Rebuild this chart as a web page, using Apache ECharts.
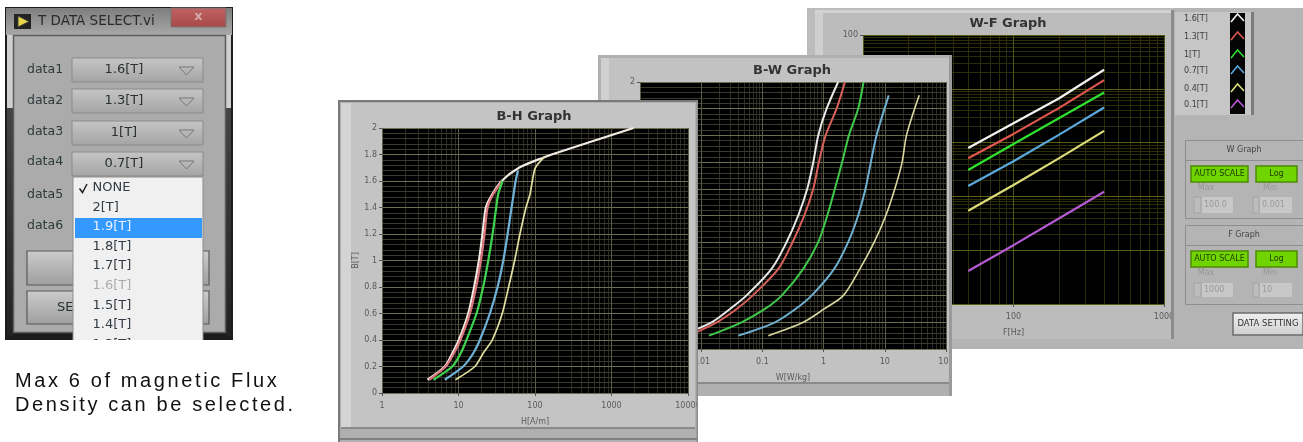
<!DOCTYPE html>
<html><head><meta charset="utf-8">
<style>html,body{margin:0;padding:0;background:#fff}#c{width:1303px;height:442px}</style>
<script src="https://cdn.jsdelivr.net/npm/echarts@6/dist/echarts.min.js"></script>
</head><body><div id="c"></div>
<script>
// ---------- data ----------
const legendLabels = ['1.6[T]','1.3[T]','1[T]','0.7[T]','0.4[T]','0.1[T]'];
const legendColors = ['#f2f2f2','#e0564f','#2fe02f','#5aa8dc','#dcdc78','#b45ad2'];
const bhColors = ['#f0ece4','#d9777c','#3fd24f','#6fb2d8','#e0e0a0'];
const bwColors = ['#e8e8e8','#d9605a','#3fc84a','#6fb0d0','#d8d8a0'];
const selectLabels = ['data1','data2','data3','data4','data5','data6'];
const selectValues = ['1.6[T]','1.3[T]','1[T]','0.7[T]'];
const menuItems = ['NONE','2[T]','1.9[T]','1.8[T]','1.7[T]','1.6[T]','1.5[T]','1.4[T]','1.3[T]'];

// B-H: [H, B]
const bhA = [[3.93,.1],[6.62,.2],[8.3,.3],[10.1,.4],[13.4,.6],[16,.8],[18.5,1],[20.6,1.2],[22.8,1.4],[27.6,1.5],[36.6,1.6],[61.7,1.7],[132,1.78],[165,1.8],[1941,2]];
const bhB = [[4.13,.1],[6.8,.2],[8.7,.3],[10.6,.4],[14.1,.6],[17,.8],[19.6,1],[21.9,1.2],[24,1.4],[28.4,1.5],[37.3,1.6]];
const bhC = [[4.7,.1],[8.3,.2],[10.7,.3],[12.7,.4],[17.2,.6],[21,.8],[24.5,1],[27.9,1.2],[31.1,1.4],[33,1.5],[37.7,1.6]];
const bhD = [[6.6,.1],[11.5,.2],[15.6,.3],[19,.4],[25.7,.6],[32.4,.8],[38.5,1],[43.9,1.2],[49.4,1.4],[52.5,1.5],[55.8,1.6],[59.9,1.68]];
const bhE = [[9.1,.1],[16.4,.2],[21,.3],[27.6,.4],[37.3,.6],[45.2,.8],[54.2,1],[63.6,1.2],[76.2,1.4],[86,1.5],[92.3,1.6],[101,1.7],[132,1.78]];
// B-W: [W, B]
const bwA = [[.0045,.1],[.0148,.2],[.0295,.3],[.0545,.4],[.141,.6],[.248,.8],[.385,1],[.541,1.2],[.678,1.4],[.817,1.6],[1.12,1.8],[1.73,2]];
const bwB = [[.0062,.1],[.0179,.2],[.0379,.3],[.069,.4],[.182,.6],[.311,.8],[.483,1],[.678,1.2],[.838,1.4],[1.08,1.6],[1.63,1.8],[2.23,2]];
const bwC = [[.0134,.1],[.0457,.2],[.11,.3],[.206,.4],[.465,.6],[.817,.8],[1.15,1],[1.53,1.2],[2.01,1.4],[2.59,1.6],[3.67,1.8],[4.5,2]];
const bwD = [[.0404,.1],[.16,.2],[.348,.3],[.635,.4],[1.49,.6],[2.52,.8],[3.67,1],[4.84,1.2],[5.92,1.4],[7.33,1.6],[11.6,1.9]];
const bwE = [[.125,.1],[.465,.2],[1.02,.3],[2.09,.4],[3.92,.6],[6.71,.8],[10.4,1],[14.6,1.2],[19.2,1.4],[22.6,1.6],[36.5,1.9]];
// W-F: [F, W]
const wfA = [[50,.796],[100,2.29],[200,6.6],[400,22.6]];
const wfB = [[50,.51],[100,1.45],[200,4.37],[400,14.5]];
const wfC = [[50,.31],[100,.944],[200,2.84],[400,8.55]];
const wfD = [[50,.156],[100,.449],[200,1.39],[400,4.49]];
const wfE = [[50,.054],[100,.163],[200,.51],[400,1.65]];
const wfF = [[50,.0041],[100,.0124],[200,.0389],[400,.122]];

// ---------- helpers ----------
const G = echarts.graphic;
const FONT = '"DejaVu Sans"';
const vg = (a,b)=>new G.LinearGradient(0,0,0,1,[{offset:0,color:a},{offset:1,color:b}]);
const els = [];
function rect(x,y,w,h,fill,z,stroke,lw){els.push({type:'rect',silent:true,z,shape:{x,y,width:w,height:h},style:{fill,stroke:stroke||null,lineWidth:lw||0}});}
function text(x,y,s,size,fill,z,align,weight,zlevel){els.push({type:'text',silent:true,z,zlevel:zlevel||0,x,y,style:{text:s,font:(weight?weight+' ':'')+size+'px '+FONT,fill,textAlign:align||'left',textVerticalAlign:'middle'}});}
function poly(pts,stroke,lw,z){els.push({type:'polyline',silent:true,z,shape:{points:pts},style:{stroke,lineWidth:lw,fill:null}});}

function logMinors(lo,hi){const o=[];for(let e=lo;e<hi;e++)for(let k=2;k<10;k++)o.push(+(k*Math.pow(10,e)).toPrecision(3));return o;}

// ---------- background + panels ----------
// W-F window
rect(807,8,496,341,'#b4b4b4',1);
rect(807,8,367,331,'#bcbcbc',2);
rect(815,13,8,326,'#cfcfcf',3);
rect(815,10,357,3,'#d2d2d2',3);
rect(1171,10,3,329,'#8c8c8c',16);
// B-W window
rect(598,55,354,341,'#b0b0b0',30);
rect(601,58,348,324,'#c2c2c2',30);
rect(601,58,8,324,'#d0d0d0',30);
rect(601,382,348,2,'#8a8a8a',30);
rect(949,55,3,341,'#9a9a9a',36);
rect(952,350,14,46,'#ffffff',36);
// B-H window
rect(338,100,360,342,'#b0b0b0',50);
rect(341,103,354,324,'#c4c4c4',50);
rect(341,103,10,324,'#d4d4d4',50);
rect(341,427,354,2,'#8a8a8a',50);
rect(338,438,360,2,'#808080',50);
rect(338,100,2,342,'#7a7a7a',50);
rect(338,100,360,2,'#7a7a7a',50);
rect(696.5,100,1.5,342,'#8a8a8a',56);
rect(698,397,10,20,'#ffffff',56);
text(534,117,'B-H Graph',13,'#333',51,'center','bold');
text(792,71,'B-W Graph',13,'#333',31,'center','bold');
text(1008,24,'W-F Graph',13,'#333',11,'center','bold');

// legend box
rect(1175,12,79,103,'#c6c6c6',5);
rect(1251,12,3,103,'#7c7c7c',5);
rect(1230,13,15,101,'#050505',6);
legendLabels.forEach((s,i)=>{
  const y=[19,37,55,71,89,105][i];
  text(1184,y,s,8,'#3c3c3c',6);
  poly([[1231,y+3],[1237.5,y-5],[1244,y+2]],legendColors[i],1.6,7);
});
// scale groups
function group(y,h,ttl,lineY,btnY,labY,inY,inH,a,b){
  rect(1185.5,y+.5,118,h,'#b4b4b4',5,'#8e8e8e',1);
  rect(1186,lineY,118,1,'#8e8e8e',6);
  text(1244,y+10,ttl,8,'#444',6,'center');
  rect(1191,btnY,57,16,'#6fd400',6,'#4d8a00',1.5);
  rect(1256,btnY,41,16,'#6fd400',6,'#4d8a00',1.5);
  text(1219.5,btnY+8,'AUTO SCALE',8,'#1e3a00',7,'center');
  text(1276.5,btnY+8,'Log',8,'#1e3a00',7,'center');
  text(1206,labY,'Max',8,'#969696',7,'center');
  text(1270,labY,'Min',8,'#969696',7,'center');
  rect(1194,inY,7,inH,'#bdbdbd',6,'#a4a4a4',1);
  rect(1202,inY,31,inH,'#c8c8c8',6);
  text(1204,inY+inH/2,a,8,'#999',7);
  rect(1253,inY,6,inH,'#bdbdbd',6,'#a4a4a4',1);
  rect(1260,inY,32,inH,'#c8c8c8',6);
  text(1262,inY+inH/2,b,8,'#999',7);
}
group(140,78,'W Graph',160,166,188,197,16,'100.0','0.001');
group(225,79,'F Graph',245,251,273,283,14,'1000','10');
rect(1233,313,70,22,vg('#f0f0f0','#cfcfcf'),6,'#6c6c6c',1.5);
text(1268,324,'DATA SETTING',8.5,'#333',7,'center');

// ---------- selection dialog ----------
const D=70;
rect(5,7,228,333,'#1c1c1c',D);
rect(6,8,226,27,vg('#7e7e7e','#a8a8a8'),D);
rect(7,35,6,73,'#d0d0d0',D);
rect(226,35,5,73,'#d0d0d0',D);
rect(7,108,6,228,vg('#444444','#222222'),D);
rect(226,108,5,228,vg('#444444','#222222'),D);
rect(171,8,55,19,vg('#c06464','#a84848'),D,'#777',1);
text(198.5,17,'x',13,'#d8a8a8',D,'center','bold');
rect(14,14,17,15,'#222',D);
els.push({type:'polygon',silent:true,z:D,shape:{points:[[18,16],[29,21.5],[18,27]]},style:{fill:'#e8d84a',stroke:'#444',lineWidth:1}});
text(38,21,'T DATA SELECT.vi',13.5,'#2a2a2a',D);
rect(13.5,35.5,212,297,'#ababab',D,'#5c5c5c',1.5);
selectLabels.forEach((s,i)=>text(27,[70,101,132,162,195,226][i],s,12.5,'#2e3a3a',D+1));
[58,89,121,152].forEach((y,i)=>{
  rect(72,y,131,24,vg('#c6c6c6','#a4a4a4'),D+1,'#8a8a8a',1);
  text(124,y+12,selectValues[i],13,'#2a3030',D+2,'center');
  poly([[179,y+9],[194,y+9],[186.5,y+17],[179,y+9]],'#777',1,D+2);
});
rect(27,251,182,34,vg('#cccccc','#9e9e9e'),D+1,'#5a5a5a',1.2);
rect(27,291,182,33,vg('#cccccc','#9e9e9e'),D+1,'#5a5a5a',1.2);
text(57,308,'SE',13,'#2a3030',D+2);
rect(73,177,130,170,'#f0f0f0',D+3,'#8c8c8c',1);
rect(75,218,127,20,'#3399ff',D+4);
menuItems.forEach((s,i)=>{
  text(92.5,187.5+i*19.65,s,13,i===2?'#e8f2ff':(i===5?'#ababab':'#333c44'),D+5);
});
poly([[79.5,188.5],[82.5,192.5],[87,184]],'#222',1.5,D+5);
rect(0,340,320,102,'#ffffff',D+6);
rect(0,7,5,333,'#ffffff',D+6);

// caption (own canvas layer so it can carry the letter spacing)
const CAP=['Max 6 of magnetic Flux','Density can be selected.'];
CAP.forEach((s,i)=>els.push({type:'text',silent:true,z:1,zlevel:1,x:15,y:[381,405][i],
  style:{text:s,font:'20px "Liberation Sans"',fill:'#111',textAlign:'left',textVerticalAlign:'middle'}}));

// ---------- charts ----------
const grids=[
 {left:863,top:35,width:301,height:269,show:true,backgroundColor:'#000',borderWidth:0,z:12},
 {left:640,top:82,width:306,height:267,show:true,backgroundColor:'#000',borderWidth:0,z:32},
 {left:382,top:128,width:306,height:265,show:true,backgroundColor:'#000',borderWidth:0,z:52}];
const labelStyle={fontSize:8,color:'#5a5a5a',fontFamily:FONT,margin:9};
const tick={show:true,length:3,lineStyle:{color:'#555'}};
function xAx(i,min,max,name,gap,z,col){return {type:'log',logBase:10,gridIndex:i,min,max,name,nameLocation:'middle',nameGap:gap,z,
  nameTextStyle:{fontSize:8,color:'#5a5a5a',fontFamily:FONT},axisLine:{show:false},axisTick:tick,axisLabel:{...labelStyle,showMinLabel:true,showMaxLabel:true,hideOverlap:false,formatter:v=>String(v)},
  splitLine:{show:true,lineStyle:{color:col,width:1}},minorTick:{show:false},minorSplitLine:{show:false}};}
function yLin(i,z,col,minor,name){return {type:'value',gridIndex:i,min:0,max:2,interval:.2,z,name,nameLocation:'middle',nameGap:17,
  nameTextStyle:{fontSize:8,color:'#5a5a5a',fontFamily:FONT},axisLine:{show:false},axisTick:tick,axisLabel:{...labelStyle,margin:5,formatter:v=>String(+v.toFixed(1))},
  splitLine:{show:true,lineStyle:{color:col,width:1}},minorTick:{show:false,splitNumber:5},minorSplitLine:{show:true,lineStyle:{color:minor,width:1}}};}
const xAxis=[xAx(0,10,1000,'F[Hz]',25,14,'#4e5616'),xAx(1,.001,100,'W[W/kg]',25,34,'#5c5c44'),xAx(2,1,10000,'H[A/m]',25,54,'#5c5c44')];
const yAxis=[
 {type:'log',logBase:10,gridIndex:0,min:.001,max:100,z:14,axisLine:{show:false},axisTick:tick,axisLabel:{...labelStyle,margin:5,formatter:v=>String(v)},
  splitLine:{show:true,lineStyle:{color:'#5a5e14',width:1}},minorTick:{show:false},minorSplitLine:{show:false}},
 yLin(1,34,'#6e6e54','#3a3a2e'),
 yLin(2,54,'#6e6e54','#3a3a2e','B[T]')];
function gridHelper(i,z,xv,yv,col){
  return {type:'line',xAxisIndex:i,yAxisIndex:i,data:[],z,silent:true,animation:false,
    markLine:{z,silent:true,animation:false,symbol:'none',label:{show:false},lineStyle:{color:col,width:1,type:'solid'},
      data:[...xv.map(v=>({xAxis:v})),...yv.map(v=>({yAxis:v}))]}};
}
function curve(i,data,color,z,w,sm){return {type:'line',xAxisIndex:i,yAxisIndex:i,data,z,showSymbol:false,silent:true,animation:false,smooth:sm||false,clip:true,lineStyle:{color,width:w||2}};}
const series=[
 gridHelper(0,13,logMinors(1,3),logMinors(-3,2),'#2a2c0a'),
 gridHelper(1,33,logMinors(-3,2),[],'#2c2c22'),
 gridHelper(2,53,logMinors(0,4),[],'#2c2c22'),
 ...[wfA,wfB,wfC,wfD,wfE,wfF].map((d,k)=>curve(0,d,legendColors[k],15,2.2)),
 ...[bwA,bwB,bwC,bwD,bwE].map((d,k)=>curve(1,d,bwColors[k],35,k==4?1.6:2,.3)),
 ...[bhA,bhB,bhC,bhD,bhE].map((d,k)=>curve(2,d,bhColors[k],55,k==4?1.7:2.2,.25))
];
const option={animation:false,backgroundColor:'#fff',grid:grids,xAxis,yAxis,series,graphic:{elements:els}};
const chart=echarts.init(document.getElementById('c'),null,{renderer:'canvas'});
chart.setOption(option);
// letter spacing on the caption layer, then repaint
const cv=document.querySelectorAll('#c canvas');
if(cv.length>1){cv[cv.length-1].getContext('2d').letterSpacing='2.62px';chart.setOption(option,true);}
</script></body></html>
